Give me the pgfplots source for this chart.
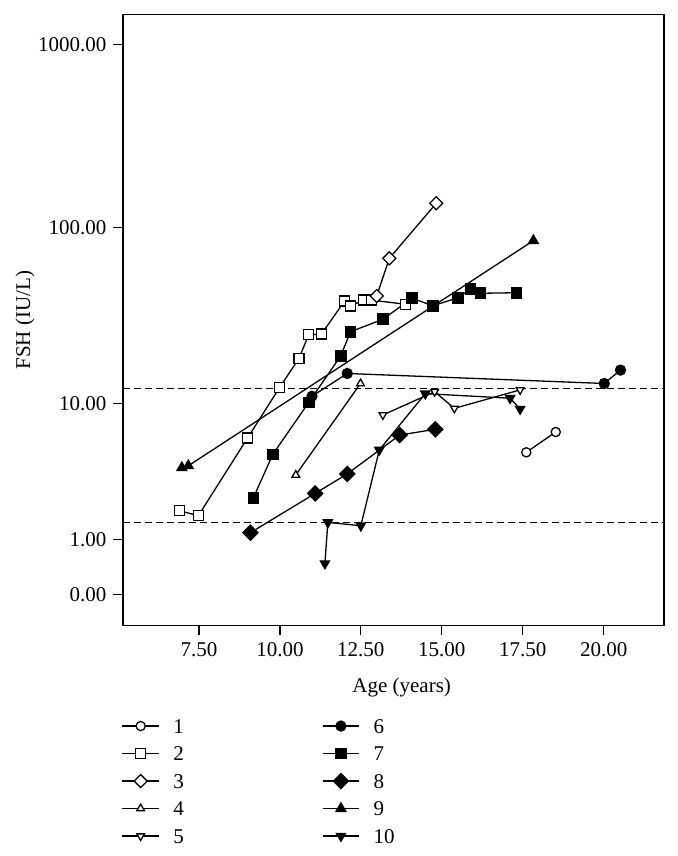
\documentclass[border=0pt]{standalone}
\usepackage{fontspec}
\setmainfont{Liberation Serif}
\usepackage{pgfplots}
\pgfplotsset{compat=1.18}
\begin{document}
\begin{tikzpicture}[font=\fontsize{10.5}{12.6}\selectfont]
\begin{axis}[
  at={(0,0)}, anchor=south west,
  scale only axis, width=270.5pt, height=305.5pt,
  xmin=5.152, xmax=21.865,
  ymin=-0.169, ymax=3.164,
  y filter/.expression={log10(y+1)},
  xtick={7.5,10,12.5,15,17.5,20},
  xticklabels={7.50,10.00,12.50,15.00,17.50,20.00},
  ytick={0,0.30103,1.041393,2.004321,3.000434},
  yticklabels={0.00,1.00,10.00,100.00,1000.00},
  xtick pos=left, ytick pos=left,
  tick align=outside, major tick length=4.8pt,
  every tick/.style={line width=0.6pt, black},
  axis line style={line width=0.6pt},
  xlabel={Age (years)}, ylabel={FSH (IU/L)},
  xlabel style={at={(axis description cs:0,0)}, anchor=center, xshift=139.35pt, yshift=-31pt},
  ylabel style={at={(axis description cs:0,0.5)}, anchor=center, rotate=0, yshift=49pt},
  every axis plot/.append style={black, line width=0.65pt, mark options={line width=0.5pt, solid}},
  legend columns=2,
  legend cell align=left,
  legend image code/.code={\draw[mark repeat=2,mark phase=2] plot coordinates {(0pt,0pt) (9.15pt,0pt) (18.3pt,0pt)};},
  legend style={
    at={(axis description cs:0,0)}, anchor=north west,
    xshift=-0.65pt, yshift=-43.3pt,
    draw=none, fill=none, inner sep=0pt, outer sep=0pt, row sep=0pt,
    nodes={inner sep=0pt, minimum height=13.75pt, text width=20pt, text height=7pt, text depth=0pt},
    /tikz/every odd column/.append style={column sep=6.85pt},
    /tikz/every even column/.append style={column sep=54.35pt},
  },
]
% reference lines
\addplot[forget plot, dash pattern=on 3.4pt off 2.1pt, line width=0.6pt] coordinates {(5.152,12.3) (21.865,12.3)};
\addplot[forget plot, dash pattern=on 3.4pt off 2.1pt, line width=0.6pt] coordinates {(5.152,1.48) (21.865,1.48)};
% 1
\addplot[mark=*, mark size=2.3pt, mark options={fill=white}] coordinates {(17.61,4.98) (18.52,6.72)};
% 6
\addplot[mark=*, mark size=2.5pt, mark options={fill=black}] coordinates {(10.99,11.1) (12.08,15.1) (20.02,13.2) (20.52,15.8)};
% 2
\addplot[mark=square*, mark size=2.5pt, mark options={fill=white}] coordinates {(6.89,1.87) (7.48,1.70) (9.00,6.16) (9.99,12.5) (10.59,18.5) (10.89,25.2) (11.28,25.4) (12.00,39.0) (12.18,36.6) (12.59,39.5) (12.82,39.5) (13.88,37.4)};
% 7
\addplot[mark=square*, mark size=2.6pt, mark options={fill=black}] coordinates {(9.18,2.38) (9.78,4.83) (10.89,10.2) (11.88,19.1) (12.18,26.2) (13.18,30.8) (14.08,40.4) (14.73,36.7) (15.50,40.7) (15.89,45.4) (16.20,43.1) (17.31,43.4)};
% 3
\addplot[mark=square*, mark size=2.3pt, mark options={fill=white, rotate=45}] coordinates {(12.99,41.6) (13.38,67.4) (14.83,135.6)};
% 8
\addplot[mark=square*, mark size=2.65pt, mark options={fill=black, rotate=45}] coordinates {(9.09,1.18) (11.09,2.57) (12.08,3.56) (13.70,6.43) (14.80,6.99)};
% 4
\addplot[mark=triangle*, mark size=2.2pt, mark options={fill=white}] coordinates {(10.49,3.50) (12.49,13.2)};
% 9
\addplot[mark=triangle*, mark size=2.8pt, mark options={fill=black}] coordinates {(6.97,3.93) (7.17,4.05) (17.83,84.4)};
% 5
\addplot[mark=triangle*, mark size=2.2pt, mark options={fill=white, rotate=180}] coordinates {(13.18,8.56) (14.78,11.8) (15.39,9.39) (17.42,12.1)};
% 10
\addplot[mark=triangle*, mark size=2.6pt, mark options={fill=black, rotate=180}] coordinates {(11.39,0.48) (11.48,1.48) (12.50,1.38) (13.07,5.16) (14.49,11.5) (17.11,10.8) (17.42,9.3)};
\legend{1,6,2,7,3,8,4,9,5,10}
\end{axis}
\pgfresetboundingbox
\path (-61.5pt,-115.15pt) rectangle (277.5pt,312.85pt);
\end{tikzpicture}
\end{document}
